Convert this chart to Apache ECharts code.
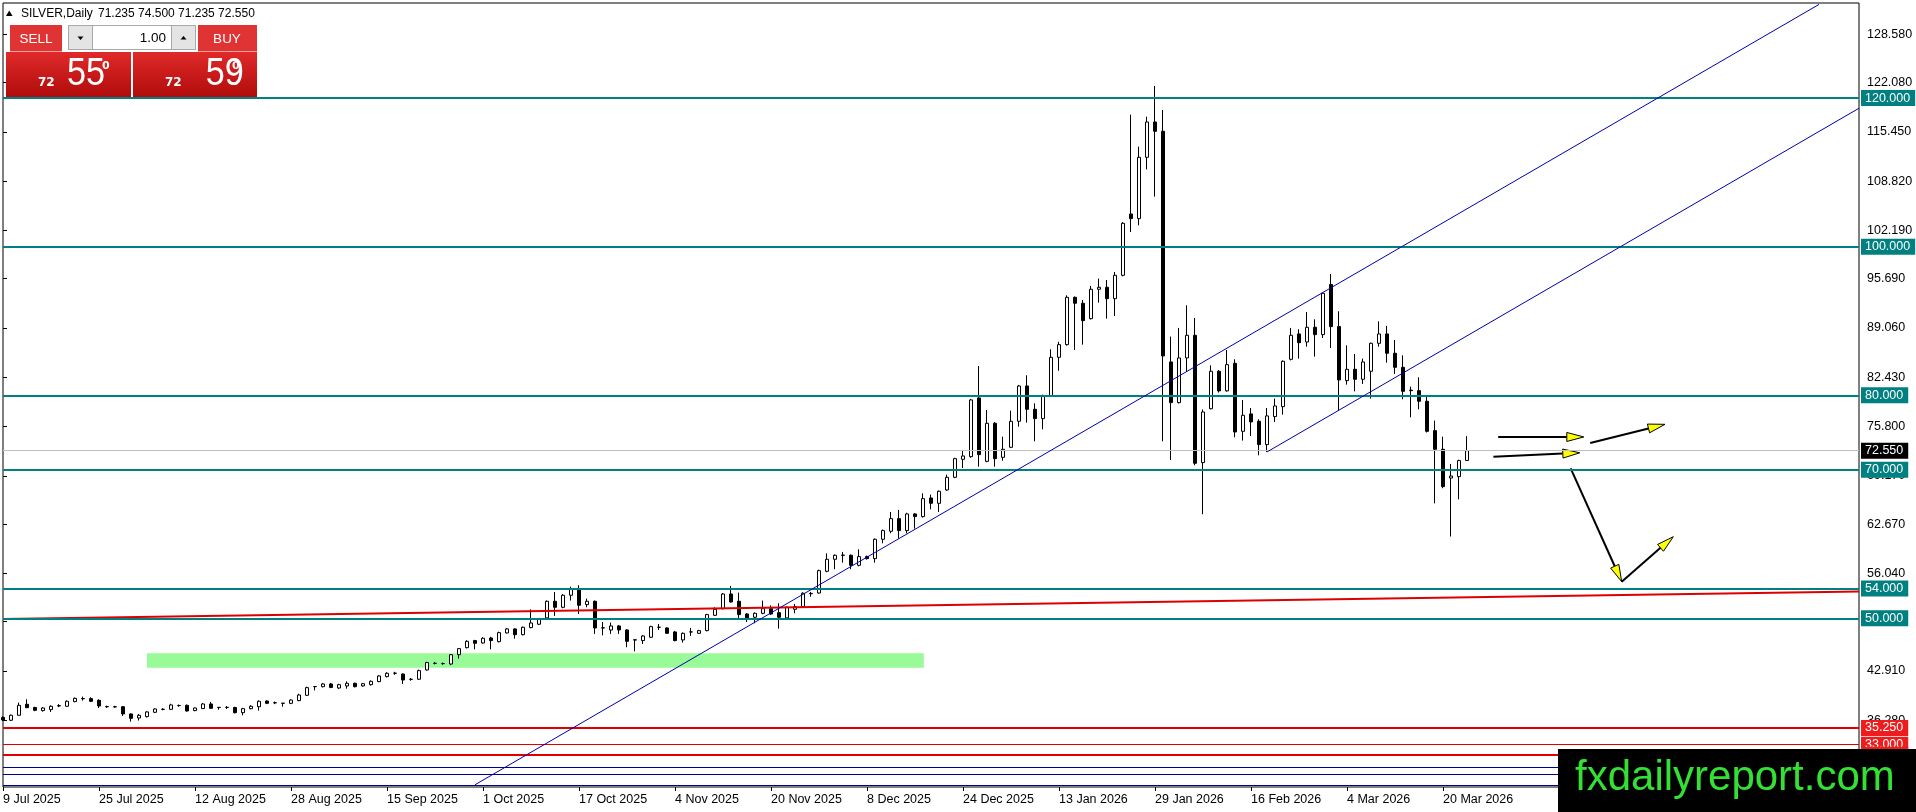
<!DOCTYPE html>
<html>
<head>
<meta charset="utf-8">
<title>SILVER, Daily</title>
<script src="https://cdn.jsdelivr.net/npm/echarts@6.0.0/dist/echarts.min.js"></script>
<style>
  html, body { margin: 0; padding: 0; background: #fff; }
  #chart { width: 1916px; height: 812px; }
</style>
</head>
<body>
<div id="chart"></div>
<script>
// daily bars (bar 0 = 9 Jul 2025)
const opens = [
  36.67, 36.28, 36.95, 38.43, 38.0, 37.58, 37.71, 38.2, 38.16, 38.79,
  39.2, 39.19, 38.96, 38.12, 38.1, 38.1, 37.13, 36.59, 36.77, 37.35,
  37.74, 37.75, 38.25, 38.29, 37.58, 37.85, 38.47, 38.0, 38.0, 38.0,
  37.3, 37.84, 38.1, 38.87, 38.62, 38.56, 38.56, 38.92, 39.64, 40.8,
  40.8, 41.16, 40.62, 40.9, 41.25, 40.9, 41.07, 41.48, 42.15, 42.6,
  42.5, 41.78, 41.8, 43.05, 43.93, 43.9, 43.85, 45.1, 46.05, 47.0,
  46.68, 47.35, 46.86, 48.03, 48.57, 47.8, 48.75, 49.2, 50.05, 52.29,
  51.48, 53.1, 53.99, 51.84, 52.29, 48.72, 48.43, 48.97, 48.43, 47.1,
  47.0, 47.45, 48.8, 48.7, 48.16, 47.09, 48.17, 47.98, 48.34, 50.4,
  51.3, 53.27, 52.29, 50.58, 50.14, 50.67, 51.3, 50.76, 50.05, 51.21,
  51.57, 53.3, 53.4, 56.32, 57.94, 58.5, 58.48, 57.13, 58.3, 58.03,
  60.63, 61.71, 63.41, 61.8, 64.04, 63.68, 66.19, 65.47, 67.27, 68.97,
  71.39, 71.75, 79.65, 71.12, 76.24, 71.66, 73.01, 76.51, 81.26, 78.12,
  76.87, 79.92, 85.12, 86.82, 93.19, 92.39, 90.32, 94.27, 94.54, 93.01,
  96.15, 104.4, 103.78, 112.03, 116.78, 115.53, 84.49, 79.02, 85.03, 88.08,
  70.95, 78.2, 83.24, 80.6, 84.31, 75.16, 77.5, 76.51, 73.37, 77.14,
  78.48, 84.85, 88.26, 87.18, 89.16, 88.17, 94.9, 89.25, 81.98, 83.5,
  82.16, 83.24, 87.0, 88.26, 85.66, 83.77, 80.7, 80.63, 79.2, 75.25,
  72.74, 68.88, 69.06, 71.235
];
const closes = [
  36.32, 36.95, 38.29, 37.98, 37.62, 37.93, 38.16, 38.25, 38.83, 39.23,
  39.18, 38.83, 38.2, 38.1, 38.08, 37.13, 36.54, 36.95, 37.4, 37.8,
  37.76, 38.34, 38.27, 37.53, 37.93, 38.47, 37.89, 38.02, 38.02, 37.3,
  37.84, 38.16, 38.83, 38.56, 38.65, 38.58, 39.0, 39.68, 40.67, 40.82,
  41.16, 40.7, 41.07, 41.25, 40.8, 41.2, 41.52, 42.24, 42.6, 42.62,
  41.7, 41.8, 42.96, 44.04, 43.95, 43.91, 45.1, 45.92, 46.9, 46.64,
  47.31, 47.0, 48.07, 48.57, 47.8, 48.79, 49.37, 49.91, 52.29, 51.48,
  53.1, 53.99, 51.75, 52.29, 48.7, 48.7, 48.97, 48.43, 46.9, 47.08,
  47.62, 48.88, 48.79, 47.98, 47.0, 47.98, 48.16, 48.34, 50.5, 51.21,
  53.27, 52.2, 50.5, 50.05, 50.67, 51.3, 50.58, 50.14, 51.48, 51.57,
  53.37, 53.35, 56.41, 57.94, 58.48, 58.48, 57.13, 58.3, 58.03, 60.63,
  61.8, 63.41, 61.8, 64.04, 63.68, 66.1, 65.47, 67.09, 68.97, 71.48,
  71.84, 79.38, 72.02, 76.24, 71.48, 72.74, 76.51, 81.26, 78.12, 76.87,
  79.92, 85.12, 86.82, 93.19, 92.39, 90.05, 94.27, 94.54, 93.01, 96.15,
  103.15, 103.78, 112.03, 116.78, 115.53, 85.3, 79.02, 85.03, 88.08, 70.86,
  77.76, 83.24, 80.6, 84.13, 75.07, 77.32, 76.42, 73.37, 77.23, 78.57,
  84.58, 88.08, 87.09, 89.16, 88.17, 93.73, 89.25, 82.07, 83.5, 82.16,
  84.49, 87.0, 88.26, 85.66, 83.77, 80.54, 80.63, 79.2, 75.16, 72.74,
  67.72, 69.15, 71.22, 72.55
];
const lows = [
  36.2, 36.2, 36.9, 37.9, 37.5, 37.45, 37.4, 38.05, 38.1, 38.7,
  38.92, 38.75, 37.93, 37.95, 37.95, 36.86, 36.1, 36.24, 36.65, 37.25,
  37.62, 37.7, 38.1, 37.45, 37.5, 37.8, 37.8, 37.7, 37.8, 37.2,
  36.95, 37.75, 37.58, 38.45, 38.45, 38.1, 38.45, 38.85, 39.55, 40.3,
  40.7, 40.6, 40.5, 40.53, 40.7, 40.8, 40.95, 41.4, 42.05, 42.4,
  41.16, 41.6, 41.7, 42.95, 43.8, 43.75, 43.7, 44.57, 45.95, 45.83,
  46.6, 45.83, 46.75, 47.95, 47.26, 47.7, 48.65, 49.1, 49.95, 50.32,
  51.35, 52.38, 50.58, 51.48, 47.9, 47.7, 47.9, 47.9, 46.1, 45.56,
  46.55, 47.35, 48.43, 47.9, 46.9, 46.73, 47.63, 47.9, 48.25, 50.3,
  51.2, 52.1, 50.05, 49.5, 49.33, 50.55, 50.45, 48.61, 49.78, 50.67,
  51.45, 52.9, 53.3, 56.2, 56.6, 57.49, 56.6, 57.0, 57.9, 57.49,
  60.09, 61.44, 60.72, 61.44, 62.07, 63.55, 64.67, 64.31, 67.15, 68.85,
  70.23, 71.6, 70.41, 71.0, 70.41, 71.21, 72.9, 75.79, 76.33, 73.82,
  75.43, 79.8, 83.3, 86.7, 86.11, 86.82, 90.2, 92.48, 90.32, 90.68,
  96.0, 101.98, 102.88, 110.4, 106.74, 73.82, 71.31, 78.9, 83.15, 70.6,
  64.0, 78.1, 80.37, 80.5, 74.36, 73.91, 74.54, 71.93, 72.38, 76.42,
  77.41, 84.7, 84.94, 86.55, 85.21, 87.72, 86.37, 78.03, 81.44, 80.54,
  81.53, 79.56, 86.55, 84.4, 82.88, 79.47, 77.05, 78.12, 75.0, 65.47,
  67.5, 61.0, 66.01, 71.235
];
const highs = [
  36.8, 37.05, 38.65, 39.1, 38.1, 38.05, 38.3, 38.45, 38.95, 39.35,
  39.46, 39.37, 39.1, 38.25, 38.22, 38.2, 37.2, 37.13, 37.5, 37.9,
  37.9, 38.5, 38.4, 38.4, 38.0, 38.6, 38.74, 38.05, 38.2, 38.1,
  37.95, 38.3, 38.95, 38.95, 38.8, 38.6, 39.1, 39.85, 40.8, 40.85,
  41.3, 41.3, 41.2, 41.52, 41.35, 41.3, 41.65, 42.35, 42.75, 42.8,
  42.6, 41.95, 43.1, 44.15, 44.1, 44.05, 45.2, 46.0, 47.05, 47.1,
  47.45, 47.5, 48.2, 48.7, 48.65, 48.9, 51.2, 50.05, 52.4, 53.54,
  53.25, 54.26, 54.44, 52.65, 52.4, 49.5, 49.42, 49.1, 48.55, 47.18,
  47.75, 49.0, 49.24, 48.8, 48.3, 48.1, 48.7, 48.45, 50.6, 51.48,
  53.4, 54.35, 53.45, 50.7, 50.8, 52.38, 51.75, 52.02, 51.6, 51.93,
  53.5, 53.55, 56.55, 58.74, 58.6, 58.93, 58.6, 59.28, 58.45, 60.75,
  61.95, 64.31, 64.58, 64.2, 64.15, 66.82, 66.64, 67.2, 69.33, 71.6,
  72.65, 79.5, 83.95, 78.03, 76.4, 74.44, 77.94, 81.4, 82.7, 78.93,
  80.1, 86.2, 87.2, 93.46, 93.3, 92.83, 94.72, 95.7, 95.52, 96.6,
  103.3, 117.77, 113.46, 117.5, 121.63, 118.4, 87.9, 89.07, 92.12, 90.41,
  78.1, 84.04, 83.4, 86.1, 84.85, 79.38, 78.3, 76.78, 78.3, 79.56,
  84.7, 89.07, 88.89, 91.22, 90.23, 93.85, 96.33, 91.31, 86.73, 85.57,
  84.94, 87.1, 89.96, 89.34, 87.45, 85.39, 81.17, 82.43, 80.0, 76.6,
  74.44, 70.77, 71.35, 74.5
];

// one date label every 12 bars
const dateLabels = [
  '9 Jul 2025', '25 Jul 2025', '12 Aug 2025', '28 Aug 2025', '15 Sep 2025', '1 Oct 2025',
  '17 Oct 2025', '4 Nov 2025', '20 Nov 2025', '8 Dec 2025', '24 Dec 2025', '13 Jan 2026',
  '29 Jan 2026', '16 Feb 2026', '4 Mar 2026', '20 Mar 2026'
];
const priceTicks = [36.28, 42.91, 49.54, 56.04, 62.67, 69.17, 75.80, 82.43, 89.06, 95.69, 102.19, 108.82, 115.45, 122.08, 128.58];

// horizontal levels
const tealLevels = [120, 100, 80, 70, 54, 50];
const redLevels = [35.25, 33.0, 31.65];
const blueLevels = [30, 29, 27.57];
const lastPrice = 72.55;

// drawings, in [bar, price]
const trendLine = [[59, 27.6], [227, 132.6]];
const channelLine = [[158, 72.38], [232, 118.63]];
const redTrend = [[0, 49.9], [232, 53.6]];
const zones = [[18, 45.29, 115.1, 43.36]];
const arrows = [
  [186.9, 74.40, 197.6, 74.40],
  [198.4, 73.58, 207.75, 76.10],
  [186.3, 71.73, 197.1, 72.27],
  [195.96, 70.17, 202.34, 54.92],
  [202.34, 54.92, 208.79, 60.98]
];

const TOTAL_SLOTS = 233; // bars + empty space on the right
const FONT = '"Liberation Sans", Arial, sans-serif';

const categories = []
for (let i = 0; i < TOTAL_SLOTS; i++) categories.push(String(i))
const candles = opens.map((o, k) => [o, closes[k], lows[k], highs[k]])

const showLabel = (i) => i % 12 === 0 && i / 12 < dateLabels.length

function levelLine(v, color, width, bg) {
  return {
    yAxis: v,
    lineStyle: { color: color, width: width, type: 'solid' },
    label: {
      show: true, position: 'end', distance: 2, formatter: v.toFixed(3),
      color: '#fff', backgroundColor: bg, padding: [2, 5, 1, 4],
      fontSize: 12.5, fontFamily: FONT
    }
  }
}
function slopeLine(pts, color, width) {
  return [
    { coord: pts[0], lineStyle: { color: color, width: width, type: 'solid' }, label: { show: false } },
    { coord: pts[1] }
  ]
}

const markLines = [slopeLine(redTrend, '#dd0000', 2)]
redLevels.forEach((v, k) => markLines.push(levelLine(v, '#e00000', k === 1 ? 1 : 2, '#ee1c1c')))
blueLevels.forEach(v => markLines.push(levelLine(v, '#000090', 1, '#000090')))
markLines.push(levelLine(lastPrice, '#c0c0c0', 1, '#000'))
tealLevels.forEach(v => markLines.push(levelLine(v, '#008080', 2, '#008080')))
markLines.push(slopeLine(trendLine, '#0000b0', 1))
markLines.push(slopeLine(channelLine, '#0000b0', 1))

function renderZone(params, api) {
  const p1 = api.coord([api.value(0), api.value(1)])
  const p2 = api.coord([api.value(2), api.value(3)])
  return {
    type: 'rect',
    shape: { x: p1[0], y: p1[1], width: p2[0] - p1[0], height: p2[1] - p1[1] },
    style: { fill: '#98fb98' }
  }
}
function renderArrow(params, api) {
  const a = api.coord([api.value(0), api.value(1)])
  const b = api.coord([api.value(2), api.value(3)])
  const dx = b[0] - a[0], dy = b[1] - a[1]
  const len = Math.hypot(dx, dy)
  const ux = dx / len, uy = dy / len
  const hl = 17, hw = 4.5
  const bx = b[0] - ux * hl, by = b[1] - uy * hl
  return {
    type: 'group',
    children: [
      { type: 'line', shape: { x1: a[0], y1: a[1], x2: bx, y2: by }, style: { stroke: '#000', lineWidth: 2 } },
      {
        type: 'polygon',
        shape: { points: [[b[0], b[1]], [bx - uy * hw, by + ux * hw], [bx + uy * hw, by - ux * hw]] },
        style: { fill: '#ffff00', stroke: '#000', lineWidth: 1 }
      }
    ]
  }
}

const redBox = {
  type: 'linear', x: 0, y: 0, x2: 0, y2: 1,
  colorStops: [{ offset: 0, color: '#e02a2a' }, { offset: 1, color: '#b10b0b' }]
}
const panel = [
  { type: 'polygon', shape: { points: [[6, 16], [12.5, 16], [9.25, 10.5]] }, style: { fill: '#000' } },
  { type: 'text', x: 21, y: 13.5, style: { text: 'SILVER,Daily', font: '12px ' + FONT, fill: '#000', verticalAlign: 'middle' } },
  { type: 'text', x: 98, y: 13.5, style: { text: '71.235 74.500 71.235 72.550', font: '12px ' + FONT, fill: '#000', verticalAlign: 'middle' } },
  // sell / buy buttons
  { type: 'rect', shape: { x: 10, y: 25, width: 52, height: 27 }, style: { fill: '#e03434' } },
  { type: 'line', shape: { x1: 10, y1: 51.5, x2: 62, y2: 51.5 }, style: { stroke: '#f2a0a0', lineWidth: 1 } },
  { type: 'text', x: 36, y: 39, style: { text: 'SELL', font: '13.5px ' + FONT, fill: '#fff', align: 'center', verticalAlign: 'middle' } },
  { type: 'rect', shape: { x: 198, y: 25, width: 59, height: 27 }, style: { fill: '#e03434' } },
  { type: 'line', shape: { x1: 198, y1: 51.5, x2: 257, y2: 51.5 }, style: { stroke: '#f2a0a0', lineWidth: 1 } },
  { type: 'text', x: 227, y: 39, style: { text: 'BUY', font: '13.5px ' + FONT, fill: '#fff', align: 'center', verticalAlign: 'middle' } },
  // lot spinner
  { type: 'rect', shape: { x: 68.5, y: 25.5, width: 127, height: 24 }, style: { fill: '#fff', stroke: '#a8a8a8', lineWidth: 1 } },
  { type: 'rect', shape: { x: 68.5, y: 25.5, width: 24, height: 24 }, style: { fill: '#e4e4e4', stroke: '#a8a8a8', lineWidth: 1 } },
  { type: 'rect', shape: { x: 171.5, y: 25.5, width: 24, height: 24 }, style: { fill: '#e4e4e4', stroke: '#a8a8a8', lineWidth: 1 } },
  { type: 'polygon', shape: { points: [[77.5, 36.5], [83.5, 36.5], [80.5, 40]] }, style: { fill: '#000' } },
  { type: 'polygon', shape: { points: [[180.5, 39.5], [186.5, 39.5], [183.5, 36]] }, style: { fill: '#000' } },
  { type: 'text', x: 166, y: 38.5, style: { text: '1.00', font: '13.5px ' + FONT, fill: '#000', align: 'right', verticalAlign: 'middle' } },
  // bid / ask boxes
  { type: 'rect', shape: { x: 6, y: 52, width: 125, height: 45 }, style: { fill: redBox } },
  { type: 'rect', shape: { x: 133, y: 52, width: 124, height: 45 }, style: { fill: redBox } },
  { type: 'text', x: 38, y: 82.5, style: { text: '72', font: 'bold 12px "DejaVu Sans"', fill: '#fff', verticalAlign: 'middle' } },
  { type: 'text', x: 61, y: 74.5, scaleX: 0.9, originX: 61, style: { text: '55', font: '38px ' + FONT, fill: '#fff', verticalAlign: 'middle' } },
  { type: 'text', x: 102, y: 66, style: { text: '0', font: 'bold 11px "DejaVu Sans"', fill: '#fff', verticalAlign: 'middle' } },
  { type: 'text', x: 165, y: 82.5, style: { text: '72', font: 'bold 12px "DejaVu Sans"', fill: '#fff', verticalAlign: 'middle' } },
  { type: 'text', x: 187, y: 74.5, scaleX: 0.9, originX: 187, style: { text: '59', font: '38px ' + FONT, fill: '#fff', verticalAlign: 'middle' } },
  { type: 'text', x: 232, y: 66, style: { text: '0', font: 'bold 11px "DejaVu Sans"', fill: '#fff', verticalAlign: 'middle' } },
  // watermark
  { type: 'rect', shape: { x: 1558, y: 749, width: 358, height: 63 }, style: { fill: '#000' } },
  { type: 'text', x: 1575, y: 778, style: { text: 'fxdailyreport.com', font: '42px ' + FONT, fill: '#33e033', verticalAlign: 'middle' } }
].map(el => Object.assign({ z: 100, silent: true }, el))

const chart = echarts.init(document.getElementById('chart'), null, { renderer: 'canvas' })
chart.setOption({
  animation: false,
  backgroundColor: '#fff',
  textStyle: { fontFamily: FONT },
  grid: {
    left: 3, right: 57, top: 3, bottom: 25,
    show: true, borderColor: '#000', borderWidth: 1,
    outerBoundsMode: 'none'
  },
  xAxis: [
    {
      type: 'category',
      data: categories,
      boundaryGap: false,
      axisLine: { show: false },
      axisTick: { show: true, interval: showLabel, length: 4, lineStyle: { color: '#000' } },
      axisLabel: {
        interval: showLabel,
        formatter: (v, i) => dateLabels[i / 12],
        align: 'left', margin: 6, color: '#000', fontSize: 12.5, fontFamily: FONT
      },
      splitLine: { show: false }
    },
    { type: 'value', min: 0, max: TOTAL_SLOTS - 1, show: false }
  ],
  yAxis: {
    type: 'value',
    position: 'right',
    min: 27.30, max: 132.79,
    scale: true,
    splitLine: { show: false },
    axisLine: { show: false },
    axisTick: { show: true, customValues: priceTicks, length: 4, lineStyle: { color: '#000' } },
    axisLabel: {
      customValues: priceTicks,
      formatter: v => v.toFixed(3),
      margin: 8, color: '#000', fontSize: 12.5, fontFamily: FONT
    }
  },
  series: [
    {
      type: 'custom', name: 'zones', xAxisIndex: 1, yAxisIndex: 0, z: 1, silent: true,
      data: zones, encode: { x: [0, 2], y: [1, 3] }, renderItem: renderZone
    },
    {
      type: 'candlestick', name: 'SILVER', xAxisIndex: 0, yAxisIndex: 0, z: 2, silent: true,
      data: candles,
      barWidth: 4,
      itemStyle: {
        color: '#fff', color0: '#000',
        borderColor: '#000', borderColor0: '#000', borderColorDoji: '#000', borderWidth: 1
      }
    },
    {
      type: 'custom', name: 'drawings', xAxisIndex: 1, yAxisIndex: 0, z: 3, silent: true, clip: false,
      data: arrows, encode: { x: [0, 2], y: [1, 3] }, renderItem: renderArrow,
      markLine: { silent: true, symbol: ['none', 'none'], animation: false, data: markLines }
    }
  ],
  graphic: panel
})
</script>
</body>
</html>
